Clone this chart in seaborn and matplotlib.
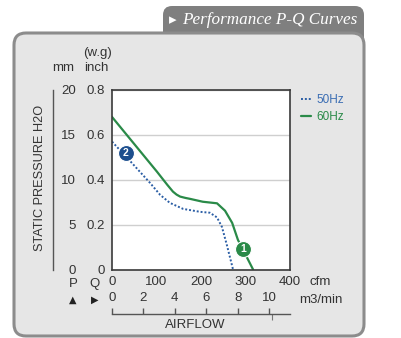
import numpy as np
import pandas as pd
import matplotlib
matplotlib.use('Agg')
import matplotlib.pyplot as plt
import seaborn as sns
from matplotlib.patches import FancyBboxPatch
from matplotlib.transforms import IdentityTransform

# ---------------- data ----------------
series_names = ['50Hz', '60Hz']
cfm_50 = [0, 40, 85, 108, 130, 160, 198, 220, 236, 247, 258, 272]
p_50 = [0.57, 0.485, 0.387, 0.333, 0.297, 0.270, 0.257, 0.253, 0.232, 0.19, 0.11, 0.0]
cfm_60 = [0, 101, 124, 137, 145, 153, 165, 175, 204, 236, 254, 270, 283, 294, 317]
p_60 = [0.68, 0.436, 0.378, 0.347, 0.334, 0.325, 0.319, 0.315, 0.302, 0.295, 0.262, 0.208, 0.132, 0.09, 0.0]
badge_labels = ['1', '2']
badge_cfm = [294, 31]
badge_p = [0.092, 0.52]
inch_ticks = [0, 0.2, 0.4, 0.6, 0.8]
inch_ticklabels = ['0', '0.2', '0.4', '0.6', '0.8']
mm_ticks = [0, 5, 10, 15, 20]
cfm_ticks = [0, 100, 200, 300, 400]
m3_ticks = [0, 2, 4, 6, 8, 10]

W, H = 401, 338
GREEN = '#2a8a48'
BLUE = '#2b5ea5'

sns.set_theme(style='white')
plt.rcParams['font.family'] = ['Liberation Sans', 'DejaVu Sans']
TXT = '#333333'

fig = plt.figure(figsize=(W / 100, H / 100), dpi=100)
fig.patch.set_facecolor('white')

def fx(x):
    return x / W

def fy(y):
    return 1 - y / H

# ---------------- background panel and tab ----------------
tab = FancyBboxPatch((163, H - 48), 201, 42, boxstyle='round,pad=0,rounding_size=9',
                     fc='#7f7f7f', ec='none', transform=IdentityTransform(), zorder=-11)
fig.patches.append(tab)
panel = FancyBboxPatch((14, H - 336), 350, 303, boxstyle='round,pad=0,rounding_size=12',
                       fc='#e6e6e6', ec='#8c8c8c', lw=2.2, transform=IdentityTransform(), zorder=-10)
fig.patches.append(panel)
fig.text(fx(173), fy(20), '\u25b8', color='white', fontsize=11, ha='center', va='center',
         family=['DejaVu Sans'])
fig.text(fx(182), fy(20), 'Performance P-Q Curves', color='white', fontsize=12.3,
         style='italic', family=['Liberation Serif', 'DejaVu Serif'], ha='left', va='center')

# ---------------- main axes ----------------
L, R, T, B = 112, 290, 90, 269.5
ax = fig.add_axes([fx(L), fy(B), (R - L) / W, (B - T) / H])
ax.set_facecolor('white')

df = pd.concat([
    pd.DataFrame({'cfm': cfm_50, 'p': p_50, 'freq': series_names[0]}),
    pd.DataFrame({'cfm': cfm_60, 'p': p_60, 'freq': series_names[1]}),
])
sns.lineplot(data=df[df.freq == '50Hz'], x='cfm', y='p', ax=ax, color=BLUE, lw=1.4,
             linestyle=(0, (1, 1)), label='50Hz', sort=False, estimator=None)
sns.lineplot(data=df[df.freq == '60Hz'], x='cfm', y='p', ax=ax, color=GREEN, lw=1.6,
             label='60Hz', sort=False, estimator=None)

badge_colors = [GREEN, '#1d4f8e']
for lab, xc, yc, col in zip(badge_labels, badge_cfm, badge_p, badge_colors):
    ax.plot([xc], [yc], marker='o', ms=11.5, color=col, mec='white', mew=0.8, zorder=5)
    ax.text(xc, yc, lab, color='white', fontsize=7.5, fontweight='bold', ha='center',
            va='center', zorder=6)

ax.set_xlim(0, 400)
ax.set_ylim(0, 0.8)
ax.set_xticks(cfm_ticks)
ax.set_yticks(inch_ticks)
ax.set_yticklabels(inch_ticklabels)
ax.yaxis.grid(True, color='#cfcfcf', lw=1)
ax.xaxis.grid(False)
ax.set_xlabel('')
ax.set_ylabel('')
for s in ax.spines.values():
    s.set_visible(True)
    s.set_color('#3a3a3a')
    s.set_linewidth(1.2)
ax.tick_params(axis='both', length=0, labelsize=9.5, labelcolor=TXT)
ax.tick_params(axis='y', pad=5)
ax.tick_params(axis='x', pad=5)

leg = ax.legend(loc='upper left', bbox_to_anchor=(fx(301), fy(94)), bbox_transform=fig.transFigure,
                frameon=False, fontsize=8.5, handlelength=0.85, handletextpad=0.45,
                labelspacing=0.45, borderpad=0, borderaxespad=0, labelcolor=['#3a6db3', GREEN])

# secondary axis m3/min
cfm_per_m3 = 35.3147
sec = ax.secondary_xaxis((B - 314) / (B - T),
                         functions=(lambda c: c / cfm_per_m3, lambda m: m * cfm_per_m3))
sec.set_alignment('top')
sec.set_xticks(m3_ticks)
sec.set_xticks([10.2, 11.33], minor=True)
sec.spines['top'].set_color('#555555')
sec.spines['top'].set_linewidth(1)
sec.tick_params(axis='x', which='major', direction='out', length=4, width=1, color='#555555',
                labelsize=9.5, labelcolor=TXT, pad=3)
sec.tick_params(axis='x', which='minor', direction='in', length=4, width=0.8, color='#777777')

# mm axis
axmm = fig.add_axes([fx(53), fy(B), 0.0001, (B - T) / H])
axmm.set_facecolor('none')
axmm.set_ylim(0, 20)
axmm.set_yticks(mm_ticks)
axmm.set_xticks([])
for k in ['top', 'right', 'bottom']:
    axmm.spines[k].set_visible(False)
axmm.spines['left'].set_visible(True)
axmm.spines['left'].set_color('#555555')
axmm.spines['left'].set_linewidth(1)
axmm.tick_params(axis='y', direction='in', length=5, width=1, color='#555555',
                 labelsize=9.5, labelcolor=TXT, pad=-16.5)

# ---------------- texts ----------------
fs = 9.5
fig.text(fx(63), fy(68), 'mm', fontsize=fs, color=TXT, ha='center', va='center')
fig.text(fx(97), fy(53), '(w.g)', fontsize=fs, color=TXT, ha='center', va='center')
fig.text(fx(96), fy(68), 'inch', fontsize=fs, color=TXT, ha='center', va='center')
fig.text(fx(40), fy(178), 'STATIC PRESSURE H2O', fontsize=9.2, color=TXT, rotation=90,
         ha='center', va='center')
fig.text(fx(320), fy(282), 'cfm', fontsize=fs, color=TXT, ha='center', va='center')
fig.text(fx(321), fy(300), 'm3/min', fontsize=fs, color=TXT, ha='center', va='center')
fig.text(fx(73), fy(284), 'P', fontsize=fs, color=TXT, ha='center', va='center')
fig.text(fx(95), fy(284), 'Q', fontsize=fs, color=TXT, ha='center', va='center')
fig.text(fx(73), fy(300), '\u25b2', fontsize=7, color='#222222', ha='center', va='center',
         family=['DejaVu Sans'])
fig.text(fx(95), fy(300), '\u25b6', fontsize=7, color='#222222', ha='center', va='center',
         family=['DejaVu Sans'])
fig.text(fx(195), fy(325), 'AIRFLOW', fontsize=fs, color=TXT, ha='center', va='center')

fig.savefig('out.png', dpi=100)
